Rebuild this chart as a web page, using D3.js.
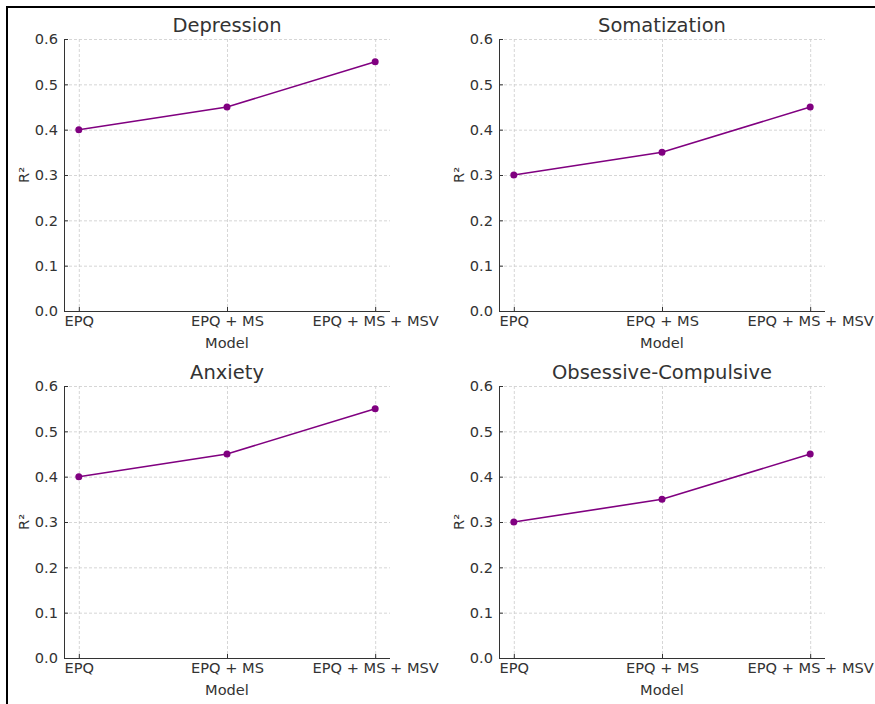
<!DOCTYPE html>
<html>
<head>
<meta charset="utf-8">
<script src="https://cdn.jsdelivr.net/npm/d3@7"></script>
<style>
  body { margin: 0; background: #fff; }
  svg { display: block; font-family: "DejaVu Sans", sans-serif; }
  .grid line { stroke: #cccccc; stroke-width: 0.8; stroke-dasharray: 3,2; }
  .axis path, .axis line { stroke: #333; }
  .axis text { fill: #333; font-size: 14.6px; font-family: "DejaVu Sans", sans-serif; }
</style>
</head>
<body>
<div id="chart"></div>
<script>
    // data
    var models = ["EPQ", "EPQ + MS", "EPQ + MS + MSV"];
    var titles = ["Depression", "Somatization", "Anxiety", "Obsessive-Compulsive"];
    var depression = [0.40, 0.45, 0.55];
    var somatization = [0.30, 0.35, 0.45];
    var anxiety = [0.40, 0.45, 0.55];
    var obsessive = [0.30, 0.35, 0.45];
    var yTicks = [0.0, 0.1, 0.2, 0.3, 0.4, 0.5, 0.6];

    var series = [depression, somatization, anxiety, obsessive];

    var width = 875, height = 704,
        color = '#800080';

    var svg = d3.select("#chart").append("svg")
        .attr("width", width)
        .attr("height", height);

    // outer frame (cropped at right and bottom)
    svg.append("path")
        .attr("d", "M7,704 L7,7 L875,7")
        .attr("fill", "none")
        .attr("stroke", "#000")
        .attr("stroke-width", 2);

    var cols = [64, 499],
        rows = [39, 386],
        panelW = 326,
        panelH = 272;

    series.forEach(function (values, i) {
        var left = cols[i % 2],
            top = rows[Math.floor(i / 2)];

        var x = d3.scaleLinear().domain([-0.1, 2.1]).range([0, panelW]);
        var y = d3.scaleLinear().domain([0, 0.6]).range([panelH, 0]);

        var g = svg.append("g")
            .attr("transform", "translate(" + left + "," + top + ")");

        // grid
        var grid = g.append("g").attr("class", "grid");
        grid.selectAll("line.h").data(yTicks).enter().append("line")
            .attr("class", "h")
            .attr("x1", 0).attr("x2", panelW)
            .attr("y1", function (d) { return y(d) + 0.5; })
            .attr("y2", function (d) { return y(d) + 0.5; });
        grid.selectAll("line.v").data(models).enter().append("line")
            .attr("class", "v")
            .attr("y1", 0).attr("y2", panelH)
            .attr("x1", function (d, j) { return x(j) + 0.5; })
            .attr("x2", function (d, j) { return x(j) + 0.5; });

        // axes with inward ticks
        var yAxis = d3.axisLeft(y)
            .tickValues(yTicks)
            .tickFormat(d3.format(".1f"))
            .tickSize(-4)
            .tickPadding(6);
        g.append("g").attr("class", "axis").call(yAxis)
            .call(function (s) { s.select(".domain").attr("d", "M0.5," + panelH + "V0"); });

        var xAxis = d3.axisBottom(x)
            .tickValues([0, 1, 2])
            .tickFormat(function (d) { return models[d]; })
            .tickSize(-4)
            .tickPadding(5);
        g.append("g").attr("class", "axis")
            .attr("transform", "translate(0," + panelH + ")")
            .call(xAxis)
            .call(function (s) { s.select(".domain").attr("d", "M0,0.5H" + panelW); });

        // line + markers
        var line = d3.line()
            .x(function (d, j) { return x(j); })
            .y(function (d) { return y(d); });

        g.append("path")
            .datum(values)
            .attr("fill", "none")
            .attr("stroke", color)
            .attr("stroke-width", 1.6)
            .attr("d", line);

        g.selectAll("circle").data(values).enter().append("circle")
            .attr("cx", function (d, j) { return x(j); })
            .attr("cy", function (d) { return y(d); })
            .attr("r", 3.5)
            .attr("fill", color);

        // labels
        g.append("text")
            .attr("x", panelW / 2)
            .attr("y", -7)
            .attr("text-anchor", "middle")
            .style("font-size", "19.5px")
            .style("fill", "#333")
            .text(titles[i]);

        g.append("text")
            .attr("x", x(1))
            .attr("y", panelH + 37)
            .attr("text-anchor", "middle")
            .style("font-size", "14.6px")
            .style("fill", "#333")
            .text("Model");

        g.append("text")
            .attr("transform", "translate(-35," + (panelH / 2) + ") rotate(-90)")
            .attr("text-anchor", "middle")
            .style("font-size", "14.6px")
            .style("fill", "#333")
            .text("R²");
    });
</script>
</body>
</html>
